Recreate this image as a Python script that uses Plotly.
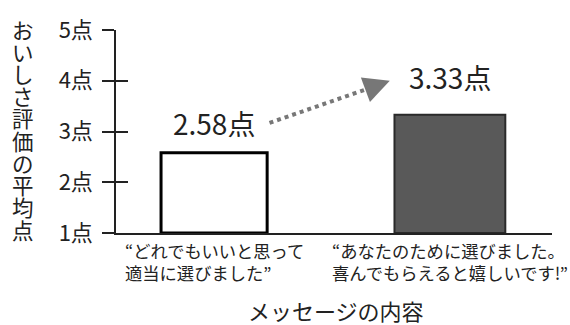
import plotly.graph_objects as go

categories = ["“どれでもいいと思って<br>適当に選びました”", "“あなたのために選びました。<br>喜んでもらえると嬉しいです!”"]
values = [2.58, 3.33]
value_labels = ["2.58点", "3.33点"]
tick_vals = [1, 2, 3, 4, 5]
tick_text = ["1点", "2点", "3点", "4点", "5点"]
y_title = "おいしさ評価の平均点"
x_title = "メッセージの内容"

FONT = "Noto Sans CJK JP"
TXT = "#222222"
xpos = list(range(len(categories)))

fig = go.Figure()
fig.add_trace(go.Bar(
    x=xpos, y=[v - 1 for v in values], base=1, width=[0.45, 0.47],
    marker=dict(color=["#ffffff", "#595959"],
                line=dict(color=["#000000", "#2a2a2a"], width=[3, 2])),
    hoverinfo="skip", showlegend=False,
))

fig.update_layout(
    width=570, height=325,
    margin=dict(l=116, r=18, t=27, b=92),
    plot_bgcolor="white", paper_bgcolor="white",
    font=dict(family=FONT, color=TXT),
    xaxis=dict(range=[-0.416, 1.433], showticklabels=False, ticks="",
               showline=True, linecolor="#222", linewidth=1.5, showgrid=False,
               zeroline=False, fixedrange=True),
    yaxis=dict(range=[1, 5], tickvals=tick_vals, ticktext=tick_text,
               ticks="outside", ticklen=12, tickwidth=1.5, tickcolor="#222",
               showline=True, linecolor="#222", linewidth=1.5, showgrid=False,
               zeroline=False, tickfont=dict(size=22, color=TXT, family=FONT),
               ticklabelstandoff=5),
    yaxis2=dict(range=[1, 5], overlaying="y", tickvals=tick_vals[1:],
                ticks="inside", ticklen=12, tickwidth=1.5, tickcolor="#222",
                showticklabels=False, showgrid=False, zeroline=False,
                showline=False),
)
fig.add_trace(go.Scatter(x=[None], y=[None], yaxis="y2", showlegend=False))

# value labels
for i, (v, t) in enumerate(zip(values, value_labels)):
    fig.add_annotation(x=xpos[i], y=v, text=t, showarrow=False,
                       yanchor="bottom", yshift=8 if i == 0 else 16,
                       font=dict(size=28, color=TXT, family=FONT))

# category labels (left-aligned within centered box)
for i, c in enumerate(categories):
    fig.add_annotation(x=xpos[i], y=1, text=c, showarrow=False, align="left",
                       yanchor="top", yshift=-3, xanchor="center",
                       font=dict(size=17.3, color=TXT, family=FONT))

# x-axis title
fig.add_annotation(xref="paper", yref="paper", x=0.505, y=0, yanchor="top",
                   yshift=-59, text=x_title, showarrow=False,
                   font=dict(size=22, color=TXT, family=FONT))

# y-axis title, one character per line (upright vertical writing)
n = len(y_title)
for k, ch in enumerate(y_title):
    ypx = 26 + k * (203 / (n - 1))
    fig.add_annotation(xref="paper", yref="paper", x=-0.213,
                       y=(233 - ypx) / 206, xanchor="center", yanchor="middle",
                       text=ch, showarrow=False,
                       font=dict(size=21.5, color=TXT, family=FONT))

# dashed arrow from first label to second
fig.add_shape(type="line", x0=0.235, y0=3.17, x1=0.70, y1=3.92,
              line=dict(color="#777777", width=4, dash="dot"))
fig.add_annotation(x=0.745, y=4.0, ax=0.69, ay=3.905, axref="x", ayref="y",
                   xref="x", yref="y", text="", showarrow=True, arrowhead=2,
                   arrowsize=1.3, arrowwidth=4, arrowcolor="#777777")

fig.write_html("out.html")
